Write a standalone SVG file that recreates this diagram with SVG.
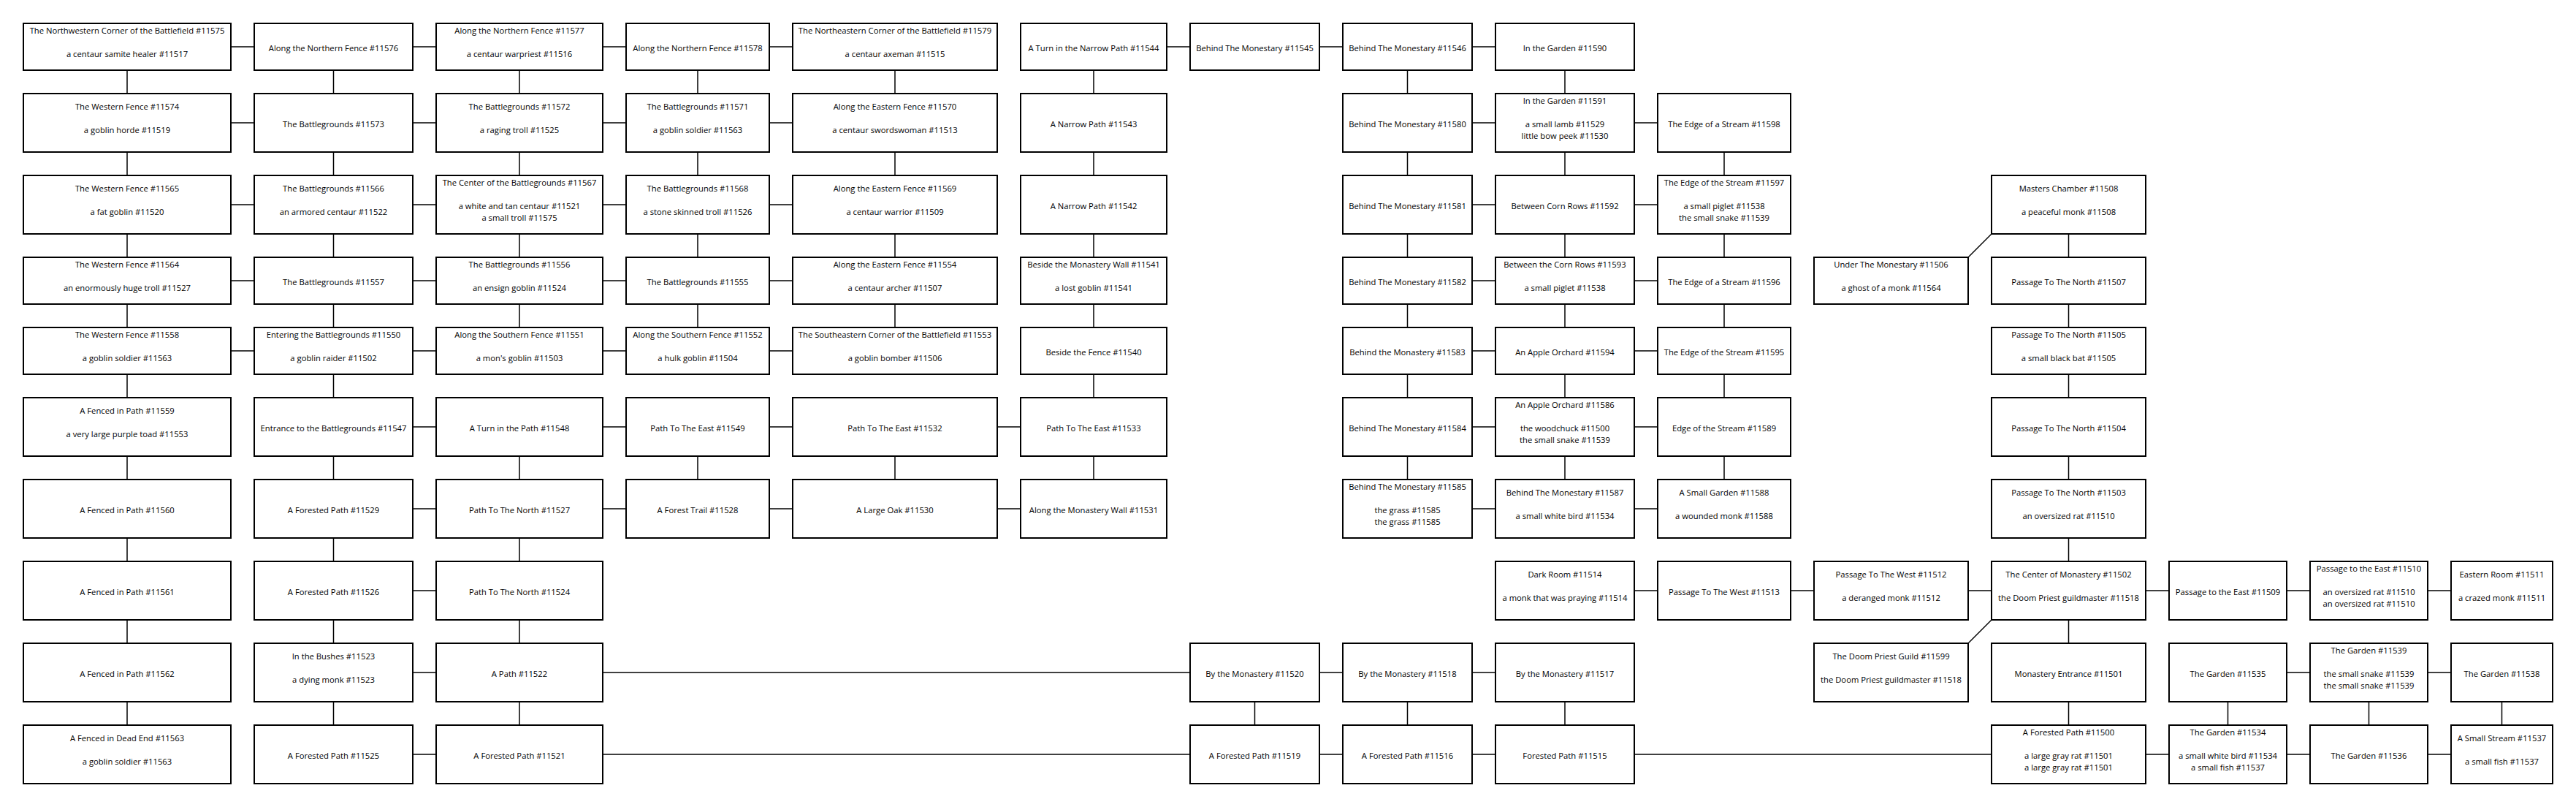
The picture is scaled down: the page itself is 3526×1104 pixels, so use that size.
<svg xmlns="http://www.w3.org/2000/svg" width="3526" height="1104" viewBox="0 0 3526 1104">
<style>
.n rect{fill:#fff;stroke:#000;stroke-width:2}
.n text{font-family:"Open Sans","Noto Sans","DejaVu Sans",sans-serif;font-size:11.25px;fill:#000;text-anchor:middle}
.c line{stroke:#000;stroke-width:1.5;fill:none}
</style>
<rect x="0" y="0" width="3526" height="1104" fill="#fff"/>
<g id="connectors" class="c">
<!-- row 1 -->
<line x1="316" y1="64" x2="348" y2="64"/><line x1="565" y1="64" x2="597" y2="64"/><line x1="825" y1="64" x2="857" y2="64"/><line x1="1053" y1="64" x2="1085" y2="64"/>
<line x1="1597" y1="64" x2="1629" y2="64"/><line x1="1806" y1="64" x2="1838" y2="64"/><line x1="2015" y1="64" x2="2047" y2="64"/>
<!-- row 2 -->
<line x1="316" y1="168" x2="348" y2="168"/><line x1="565" y1="168" x2="597" y2="168"/><line x1="825" y1="168" x2="857" y2="168"/><line x1="1053" y1="168" x2="1085" y2="168"/>
<line x1="2015" y1="168" x2="2047" y2="168"/><line x1="2237" y1="168" x2="2269" y2="168"/>
<!-- row 3 -->
<line x1="316" y1="280" x2="348" y2="280"/><line x1="565" y1="280" x2="597" y2="280"/><line x1="825" y1="280" x2="857" y2="280"/><line x1="1053" y1="280" x2="1085" y2="280"/>
<line x1="2015" y1="280" x2="2047" y2="280"/><line x1="2237" y1="280" x2="2269" y2="280"/>
<!-- row 4 -->
<line x1="316" y1="384" x2="348" y2="384"/><line x1="565" y1="384" x2="597" y2="384"/><line x1="825" y1="384" x2="857" y2="384"/><line x1="1053" y1="384" x2="1085" y2="384"/>
<line x1="2015" y1="384" x2="2047" y2="384"/><line x1="2237" y1="384" x2="2269" y2="384"/>
<!-- row 5 -->
<line x1="316" y1="480" x2="348" y2="480"/><line x1="565" y1="480" x2="597" y2="480"/><line x1="825" y1="480" x2="857" y2="480"/><line x1="1053" y1="480" x2="1085" y2="480"/>
<line x1="2015" y1="480" x2="2047" y2="480"/><line x1="2237" y1="480" x2="2269" y2="480"/>
<!-- row 6 -->
<line x1="565" y1="584" x2="597" y2="584"/><line x1="825" y1="584" x2="857" y2="584"/><line x1="1053" y1="584" x2="1085" y2="584"/><line x1="1365" y1="584" x2="1397" y2="584"/>
<line x1="2015" y1="584" x2="2047" y2="584"/><line x1="2237" y1="584" x2="2269" y2="584"/>
<!-- row 7 -->
<line x1="565" y1="696" x2="597" y2="696"/><line x1="825" y1="696" x2="857" y2="696"/><line x1="1053" y1="696" x2="1085" y2="696"/><line x1="1365" y1="696" x2="1397" y2="696"/>
<line x1="2015" y1="696" x2="2047" y2="696"/><line x1="2237" y1="696" x2="2269" y2="696"/>
<!-- row 8 -->
<line x1="565" y1="808" x2="597" y2="808"/>
<line x1="2237" y1="808" x2="2269" y2="808"/><line x1="2451" y1="808" x2="2483" y2="808"/><line x1="2694" y1="808" x2="2726" y2="808"/><line x1="2937" y1="808" x2="2969" y2="808"/><line x1="3130" y1="808" x2="3162" y2="808"/><line x1="3323" y1="808" x2="3355" y2="808"/>
<!-- row 9 -->
<line x1="565" y1="920" x2="597" y2="920"/><line x1="825" y1="920" x2="1629" y2="920"/><line x1="1806" y1="920" x2="1838" y2="920"/><line x1="2015" y1="920" x2="2047" y2="920"/>
<line x1="3130" y1="920" x2="3162" y2="920"/><line x1="3323" y1="920" x2="3355" y2="920"/>
<!-- row 10 -->
<line x1="565" y1="1032" x2="597" y2="1032"/><line x1="825" y1="1032" x2="1629" y2="1032"/><line x1="1806" y1="1032" x2="1838" y2="1032"/><line x1="2015" y1="1032" x2="2047" y2="1032"/>
<line x1="2237" y1="1032" x2="2726" y2="1032"/><line x1="2937" y1="1032" x2="2969" y2="1032"/><line x1="3130" y1="1032" x2="3162" y2="1032"/><line x1="3323" y1="1032" x2="3355" y2="1032"/>
<!-- column A -->
<line x1="174" y1="96" x2="174" y2="128"/><line x1="174" y1="208" x2="174" y2="240"/><line x1="174" y1="320" x2="174" y2="352"/><line x1="174" y1="416" x2="174" y2="448"/><line x1="174" y1="512" x2="174" y2="544"/><line x1="174" y1="624" x2="174" y2="656"/><line x1="174" y1="736" x2="174" y2="768"/><line x1="174" y1="848" x2="174" y2="880"/><line x1="174" y1="960" x2="174" y2="992"/>
<!-- column B -->
<line x1="456.5" y1="96" x2="456.5" y2="128"/><line x1="456.5" y1="208" x2="456.5" y2="240"/><line x1="456.5" y1="320" x2="456.5" y2="352"/><line x1="456.5" y1="416" x2="456.5" y2="448"/><line x1="456.5" y1="512" x2="456.5" y2="544"/><line x1="456.5" y1="624" x2="456.5" y2="656"/><line x1="456.5" y1="736" x2="456.5" y2="768"/><line x1="456.5" y1="848" x2="456.5" y2="880"/><line x1="456.5" y1="960" x2="456.5" y2="992"/>
<!-- column C -->
<line x1="711" y1="96" x2="711" y2="128"/><line x1="711" y1="208" x2="711" y2="240"/><line x1="711" y1="320" x2="711" y2="352"/><line x1="711" y1="416" x2="711" y2="448"/><line x1="711" y1="624" x2="711" y2="656"/><line x1="711" y1="736" x2="711" y2="768"/><line x1="711" y1="848" x2="711" y2="880"/><line x1="711" y1="960" x2="711" y2="992"/>
<!-- column D -->
<line x1="955" y1="96" x2="955" y2="128"/><line x1="955" y1="208" x2="955" y2="240"/><line x1="955" y1="320" x2="955" y2="352"/><line x1="955" y1="416" x2="955" y2="448"/><line x1="955" y1="624" x2="955" y2="656"/>
<!-- column E -->
<line x1="1225" y1="96" x2="1225" y2="128"/><line x1="1225" y1="208" x2="1225" y2="240"/><line x1="1225" y1="320" x2="1225" y2="352"/><line x1="1225" y1="416" x2="1225" y2="448"/><line x1="1225" y1="624" x2="1225" y2="656"/>
<!-- column F -->
<line x1="1497" y1="96" x2="1497" y2="128"/><line x1="1497" y1="208" x2="1497" y2="240"/><line x1="1497" y1="320" x2="1497" y2="352"/><line x1="1497" y1="416" x2="1497" y2="448"/><line x1="1497" y1="512" x2="1497" y2="544"/><line x1="1497" y1="624" x2="1497" y2="656"/>
<!-- column G -->
<line x1="1717.5" y1="960" x2="1717.5" y2="992"/>
<!-- column H -->
<line x1="1926.5" y1="96" x2="1926.5" y2="128"/><line x1="1926.5" y1="208" x2="1926.5" y2="240"/><line x1="1926.5" y1="320" x2="1926.5" y2="352"/><line x1="1926.5" y1="416" x2="1926.5" y2="448"/><line x1="1926.5" y1="512" x2="1926.5" y2="544"/><line x1="1926.5" y1="624" x2="1926.5" y2="656"/><line x1="1926.5" y1="960" x2="1926.5" y2="992"/>
<!-- column I -->
<line x1="2142" y1="96" x2="2142" y2="128"/><line x1="2142" y1="208" x2="2142" y2="240"/><line x1="2142" y1="320" x2="2142" y2="352"/><line x1="2142" y1="416" x2="2142" y2="448"/><line x1="2142" y1="512" x2="2142" y2="544"/><line x1="2142" y1="624" x2="2142" y2="656"/><line x1="2142" y1="960" x2="2142" y2="992"/>
<!-- column J -->
<line x1="2360" y1="208" x2="2360" y2="240"/><line x1="2360" y1="320" x2="2360" y2="352"/><line x1="2360" y1="416" x2="2360" y2="448"/><line x1="2360" y1="512" x2="2360" y2="544"/><line x1="2360" y1="624" x2="2360" y2="656"/>
<!-- column L -->
<line x1="2831.5" y1="320" x2="2831.5" y2="352"/><line x1="2831.5" y1="416" x2="2831.5" y2="448"/><line x1="2831.5" y1="512" x2="2831.5" y2="544"/><line x1="2831.5" y1="624" x2="2831.5" y2="656"/><line x1="2831.5" y1="736" x2="2831.5" y2="768"/><line x1="2831.5" y1="848" x2="2831.5" y2="880"/><line x1="2831.5" y1="960" x2="2831.5" y2="992"/>
<!-- columns M N O -->
<line x1="3049.5" y1="960" x2="3049.5" y2="992"/><line x1="3242.5" y1="960" x2="3242.5" y2="992"/><line x1="3424.5" y1="960" x2="3424.5" y2="992"/>
<!-- diagonals -->
<line x1="2694" y1="352" x2="2726" y2="320"/><line x1="2694" y1="880" x2="2726" y2="848"/>
</g>

<!-- Row 1 -->
<g id="r11575" class="n"><rect x="32" y="32" width="284" height="64"/><text x="174" y="46">The Northwestern Corner of the Battlefield #11575</text><text x="174" y="78">a centaur samite healer #11517</text></g>
<g id="r11576" class="n"><rect x="348" y="32" width="217" height="64"/><text x="456.5" y="70">Along the Northern Fence #11576</text></g>
<g id="r11577" class="n"><rect x="597" y="32" width="228" height="64"/><text x="711" y="46">Along the Northern Fence #11577</text><text x="711" y="78">a centaur warpriest #11516</text></g>
<g id="r11578" class="n"><rect x="857" y="32" width="196" height="64"/><text x="955" y="70">Along the Northern Fence #11578</text></g>
<g id="r11579" class="n"><rect x="1085" y="32" width="280" height="64"/><text x="1225" y="46">The Northeastern Corner of the Battlefield #11579</text><text x="1225" y="78">a centaur axeman #11515</text></g>
<g id="r11544" class="n"><rect x="1397" y="32" width="200" height="64"/><text x="1497" y="70">A Turn in the Narrow Path #11544</text></g>
<g id="r11545" class="n"><rect x="1629" y="32" width="177" height="64"/><text x="1717.5" y="70">Behind The Monestary #11545</text></g>
<g id="r11546" class="n"><rect x="1838" y="32" width="177" height="64"/><text x="1926.5" y="70">Behind The Monestary #11546</text></g>
<g id="r11590" class="n"><rect x="2047" y="32" width="190" height="64"/><text x="2142" y="70">In the Garden #11590</text></g>

<!-- Row 2 -->
<g id="r11574" class="n"><rect x="32" y="128" width="284" height="80"/><text x="174" y="150">The Western Fence #11574</text><text x="174" y="182">a goblin horde #11519</text></g>
<g id="r11573" class="n"><rect x="348" y="128" width="217" height="80"/><text x="456.5" y="174">The Battlegrounds #11573</text></g>
<g id="r11572" class="n"><rect x="597" y="128" width="228" height="80"/><text x="711" y="150">The Battlegrounds #11572</text><text x="711" y="182">a raging troll #11525</text></g>
<g id="r11571" class="n"><rect x="857" y="128" width="196" height="80"/><text x="955" y="150">The Battlegrounds #11571</text><text x="955" y="182">a goblin soldier #11563</text></g>
<g id="r11570" class="n"><rect x="1085" y="128" width="280" height="80"/><text x="1225" y="150">Along the Eastern Fence #11570</text><text x="1225" y="182">a centaur swordswoman #11513</text></g>
<g id="r11543" class="n"><rect x="1397" y="128" width="200" height="80"/><text x="1497" y="174">A Narrow Path #11543</text></g>
<g id="r11580" class="n"><rect x="1838" y="128" width="177" height="80"/><text x="1926.5" y="174">Behind The Monestary #11580</text></g>
<g id="r11591" class="n"><rect x="2047" y="128" width="190" height="80"/><text x="2142" y="142">In the Garden #11591</text><text x="2142" y="174">a small lamb #11529</text><text x="2142" y="190">little bow peek #11530</text></g>
<g id="r11598" class="n"><rect x="2269" y="128" width="182" height="80"/><text x="2360" y="174">The Edge of a Stream #11598</text></g>

<!-- Row 3 -->
<g id="r11565" class="n"><rect x="32" y="240" width="284" height="80"/><text x="174" y="262">The Western Fence #11565</text><text x="174" y="294">a fat goblin #11520</text></g>
<g id="r11566" class="n"><rect x="348" y="240" width="217" height="80"/><text x="456.5" y="262">The Battlegrounds #11566</text><text x="456.5" y="294">an armored centaur #11522</text></g>
<g id="r11567" class="n"><rect x="597" y="240" width="228" height="80"/><text x="711" y="254">The Center of the Battlegrounds #11567</text><text x="711" y="286">a white and tan centaur #11521</text><text x="711" y="302">a small troll #11575</text></g>
<g id="r11568" class="n"><rect x="857" y="240" width="196" height="80"/><text x="955" y="262">The Battlegrounds #11568</text><text x="955" y="294">a stone skinned troll #11526</text></g>
<g id="r11569" class="n"><rect x="1085" y="240" width="280" height="80"/><text x="1225" y="262">Along the Eastern Fence #11569</text><text x="1225" y="294">a centaur warrior #11509</text></g>
<g id="r11542" class="n"><rect x="1397" y="240" width="200" height="80"/><text x="1497" y="286">A Narrow Path #11542</text></g>
<g id="r11581" class="n"><rect x="1838" y="240" width="177" height="80"/><text x="1926.5" y="286">Behind The Monestary #11581</text></g>
<g id="r11592" class="n"><rect x="2047" y="240" width="190" height="80"/><text x="2142" y="286">Between Corn Rows #11592</text></g>
<g id="r11597" class="n"><rect x="2269" y="240" width="182" height="80"/><text x="2360" y="254">The Edge of the Stream #11597</text><text x="2360" y="286">a small piglet #11538</text><text x="2360" y="302">the small snake #11539</text></g>
<g id="r11508" class="n"><rect x="2726" y="240" width="211" height="80"/><text x="2831.5" y="262">Masters Chamber #11508</text><text x="2831.5" y="294">a peaceful monk #11508</text></g>

<!-- Row 4 -->
<g id="r11564" class="n"><rect x="32" y="352" width="284" height="64"/><text x="174" y="366">The Western Fence #11564</text><text x="174" y="398">an enormously huge troll #11527</text></g>
<g id="r11557" class="n"><rect x="348" y="352" width="217" height="64"/><text x="456.5" y="390">The Battlegrounds #11557</text></g>
<g id="r11556" class="n"><rect x="597" y="352" width="228" height="64"/><text x="711" y="366">The Battlegrounds #11556</text><text x="711" y="398">an ensign goblin #11524</text></g>
<g id="r11555" class="n"><rect x="857" y="352" width="196" height="64"/><text x="955" y="390">The Battlegrounds #11555</text></g>
<g id="r11554" class="n"><rect x="1085" y="352" width="280" height="64"/><text x="1225" y="366">Along the Eastern Fence #11554</text><text x="1225" y="398">a centaur archer #11507</text></g>
<g id="r11541" class="n"><rect x="1397" y="352" width="200" height="64"/><text x="1497" y="366">Beside the Monastery Wall #11541</text><text x="1497" y="398">a lost goblin #11541</text></g>
<g id="r11582" class="n"><rect x="1838" y="352" width="177" height="64"/><text x="1926.5" y="390">Behind The Monestary #11582</text></g>
<g id="r11593" class="n"><rect x="2047" y="352" width="190" height="64"/><text x="2142" y="366">Between the Corn Rows #11593</text><text x="2142" y="398">a small piglet #11538</text></g>
<g id="r11596" class="n"><rect x="2269" y="352" width="182" height="64"/><text x="2360" y="390">The Edge of a Stream #11596</text></g>
<g id="r11506" class="n"><rect x="2483" y="352" width="211" height="64"/><text x="2588.5" y="366">Under The Monestary #11506</text><text x="2588.5" y="398">a ghost of a monk #11564</text></g>
<g id="r11507" class="n"><rect x="2726" y="352" width="211" height="64"/><text x="2831.5" y="390">Passage To The North #11507</text></g>

<!-- Row 5 -->
<g id="r11558" class="n"><rect x="32" y="448" width="284" height="64"/><text x="174" y="462">The Western Fence #11558</text><text x="174" y="494">a goblin soldier #11563</text></g>
<g id="r11550" class="n"><rect x="348" y="448" width="217" height="64"/><text x="456.5" y="462">Entering the Battlegrounds #11550</text><text x="456.5" y="494">a goblin raider #11502</text></g>
<g id="r11551" class="n"><rect x="597" y="448" width="228" height="64"/><text x="711" y="462">Along the Southern Fence #11551</text><text x="711" y="494">a mon's goblin #11503</text></g>
<g id="r11552" class="n"><rect x="857" y="448" width="196" height="64"/><text x="955" y="462">Along the Southern Fence #11552</text><text x="955" y="494">a hulk goblin #11504</text></g>
<g id="r11553" class="n"><rect x="1085" y="448" width="280" height="64"/><text x="1225" y="462">The Southeastern Corner of the Battlefield #11553</text><text x="1225" y="494">a goblin bomber #11506</text></g>
<g id="r11540" class="n"><rect x="1397" y="448" width="200" height="64"/><text x="1497" y="486">Beside the Fence #11540</text></g>
<g id="r11583" class="n"><rect x="1838" y="448" width="177" height="64"/><text x="1926.5" y="486">Behind the Monastery #11583</text></g>
<g id="r11594" class="n"><rect x="2047" y="448" width="190" height="64"/><text x="2142" y="486">An Apple Orchard #11594</text></g>
<g id="r11595" class="n"><rect x="2269" y="448" width="182" height="64"/><text x="2360" y="486">The Edge of the Stream #11595</text></g>
<g id="r11505" class="n"><rect x="2726" y="448" width="211" height="64"/><text x="2831.5" y="462">Passage To The North #11505</text><text x="2831.5" y="494">a small black bat #11505</text></g>

<!-- Row 6 -->
<g id="r11559" class="n"><rect x="32" y="544" width="284" height="80"/><text x="174" y="566">A Fenced in Path #11559</text><text x="174" y="598">a very large purple toad #11553</text></g>
<g id="r11547" class="n"><rect x="348" y="544" width="217" height="80"/><text x="456.5" y="590">Entrance to the Battlegrounds #11547</text></g>
<g id="r11548" class="n"><rect x="597" y="544" width="228" height="80"/><text x="711" y="590">A Turn in the Path #11548</text></g>
<g id="r11549" class="n"><rect x="857" y="544" width="196" height="80"/><text x="955" y="590">Path To The East #11549</text></g>
<g id="r11532" class="n"><rect x="1085" y="544" width="280" height="80"/><text x="1225" y="590">Path To The East #11532</text></g>
<g id="r11533" class="n"><rect x="1397" y="544" width="200" height="80"/><text x="1497" y="590">Path To The East #11533</text></g>
<g id="r11584" class="n"><rect x="1838" y="544" width="177" height="80"/><text x="1926.5" y="590">Behind The Monestary #11584</text></g>
<g id="r11586" class="n"><rect x="2047" y="544" width="190" height="80"/><text x="2142" y="558">An Apple Orchard #11586</text><text x="2142" y="590">the woodchuck #11500</text><text x="2142" y="606">the small snake #11539</text></g>
<g id="r11589" class="n"><rect x="2269" y="544" width="182" height="80"/><text x="2360" y="590">Edge of the Stream #11589</text></g>
<g id="r11504" class="n"><rect x="2726" y="544" width="211" height="80"/><text x="2831.5" y="590">Passage To The North #11504</text></g>

<!-- Row 7 -->
<g id="r11560" class="n"><rect x="32" y="656" width="284" height="80"/><text x="174" y="702">A Fenced in Path #11560</text></g>
<g id="r11529" class="n"><rect x="348" y="656" width="217" height="80"/><text x="456.5" y="702">A Forested Path #11529</text></g>
<g id="r11527" class="n"><rect x="597" y="656" width="228" height="80"/><text x="711" y="702">Path To The North #11527</text></g>
<g id="r11528" class="n"><rect x="857" y="656" width="196" height="80"/><text x="955" y="702">A Forest Trail #11528</text></g>
<g id="r11530" class="n"><rect x="1085" y="656" width="280" height="80"/><text x="1225" y="702">A Large Oak #11530</text></g>
<g id="r11531" class="n"><rect x="1397" y="656" width="200" height="80"/><text x="1497" y="702">Along the Monastery Wall #11531</text></g>
<g id="r11585" class="n"><rect x="1838" y="656" width="177" height="80"/><text x="1926.5" y="670">Behind The Monestary #11585</text><text x="1926.5" y="702">the grass #11585</text><text x="1926.5" y="718">the grass #11585</text></g>
<g id="r11587" class="n"><rect x="2047" y="656" width="190" height="80"/><text x="2142" y="678">Behind The Monestary #11587</text><text x="2142" y="710">a small white bird #11534</text></g>
<g id="r11588" class="n"><rect x="2269" y="656" width="182" height="80"/><text x="2360" y="678">A Small Garden #11588</text><text x="2360" y="710">a wounded monk #11588</text></g>
<g id="r11503" class="n"><rect x="2726" y="656" width="211" height="80"/><text x="2831.5" y="678">Passage To The North #11503</text><text x="2831.5" y="710">an oversized rat #11510</text></g>

<!-- Row 8 -->
<g id="r11561" class="n"><rect x="32" y="768" width="284" height="80"/><text x="174" y="814">A Fenced in Path #11561</text></g>
<g id="r11526" class="n"><rect x="348" y="768" width="217" height="80"/><text x="456.5" y="814">A Forested Path #11526</text></g>
<g id="r11524" class="n"><rect x="597" y="768" width="228" height="80"/><text x="711" y="814">Path To The North #11524</text></g>
<g id="r11514" class="n"><rect x="2047" y="768" width="190" height="80"/><text x="2142" y="790">Dark Room #11514</text><text x="2142" y="822">a monk that was praying #11514</text></g>
<g id="r11513" class="n"><rect x="2269" y="768" width="182" height="80"/><text x="2360" y="814">Passage To The West #11513</text></g>
<g id="r11512" class="n"><rect x="2483" y="768" width="211" height="80"/><text x="2588.5" y="790">Passage To The West #11512</text><text x="2588.5" y="822">a deranged monk #11512</text></g>
<g id="r11502" class="n"><rect x="2726" y="768" width="211" height="80"/><text x="2831.5" y="790">The Center of Monastery #11502</text><text x="2831.5" y="822">the Doom Priest guildmaster #11518</text></g>
<g id="r11509" class="n"><rect x="2969" y="768" width="161" height="80"/><text x="3049.5" y="814">Passage to the East #11509</text></g>
<g id="r11510" class="n"><rect x="3162" y="768" width="161" height="80"/><text x="3242.5" y="782">Passage to the East #11510</text><text x="3242.5" y="814">an oversized rat #11510</text><text x="3242.5" y="830">an oversized rat #11510</text></g>
<g id="r11511" class="n"><rect x="3355" y="768" width="139" height="80"/><text x="3424.5" y="790">Eastern Room #11511</text><text x="3424.5" y="822">a crazed monk #11511</text></g>

<!-- Row 9 -->
<g id="r11562" class="n"><rect x="32" y="880" width="284" height="80"/><text x="174" y="926">A Fenced in Path #11562</text></g>
<g id="r11523" class="n"><rect x="348" y="880" width="217" height="80"/><text x="456.5" y="902">In the Bushes #11523</text><text x="456.5" y="934">a dying monk #11523</text></g>
<g id="r11522" class="n"><rect x="597" y="880" width="228" height="80"/><text x="711" y="926">A Path #11522</text></g>
<g id="r11520" class="n"><rect x="1629" y="880" width="177" height="80"/><text x="1717.5" y="926">By the Monastery #11520</text></g>
<g id="r11518" class="n"><rect x="1838" y="880" width="177" height="80"/><text x="1926.5" y="926">By the Monastery #11518</text></g>
<g id="r11517" class="n"><rect x="2047" y="880" width="190" height="80"/><text x="2142" y="926">By the Monastery #11517</text></g>
<g id="r11599" class="n"><rect x="2483" y="880" width="211" height="80"/><text x="2588.5" y="902">The Doom Priest Guild #11599</text><text x="2588.5" y="934">the Doom Priest guildmaster #11518</text></g>
<g id="r11501" class="n"><rect x="2726" y="880" width="211" height="80"/><text x="2831.5" y="926">Monastery Entrance #11501</text></g>
<g id="r11535" class="n"><rect x="2969" y="880" width="161" height="80"/><text x="3049.5" y="926">The Garden #11535</text></g>
<g id="r11539" class="n"><rect x="3162" y="880" width="161" height="80"/><text x="3242.5" y="894">The Garden #11539</text><text x="3242.5" y="926">the small snake #11539</text><text x="3242.5" y="942">the small snake #11539</text></g>
<g id="r11538" class="n"><rect x="3355" y="880" width="139" height="80"/><text x="3424.5" y="926">The Garden #11538</text></g>

<!-- Row 10 -->
<g id="r11563" class="n"><rect x="32" y="992" width="284" height="80"/><text x="174" y="1014">A Fenced in Dead End #11563</text><text x="174" y="1046">a goblin soldier #11563</text></g>
<g id="r11525" class="n"><rect x="348" y="992" width="217" height="80"/><text x="456.5" y="1038">A Forested Path #11525</text></g>
<g id="r11521" class="n"><rect x="597" y="992" width="228" height="80"/><text x="711" y="1038">A Forested Path #11521</text></g>
<g id="r11519" class="n"><rect x="1629" y="992" width="177" height="80"/><text x="1717.5" y="1038">A Forested Path #11519</text></g>
<g id="r11516" class="n"><rect x="1838" y="992" width="177" height="80"/><text x="1926.5" y="1038">A Forested Path #11516</text></g>
<g id="r11515" class="n"><rect x="2047" y="992" width="190" height="80"/><text x="2142" y="1038">Forested Path #11515</text></g>
<g id="r11500" class="n"><rect x="2726" y="992" width="211" height="80"/><text x="2831.5" y="1006">A Forested Path #11500</text><text x="2831.5" y="1038">a large gray rat #11501</text><text x="2831.5" y="1054">a large gray rat #11501</text></g>
<g id="r11534" class="n"><rect x="2969" y="992" width="161" height="80"/><text x="3049.5" y="1006">The Garden #11534</text><text x="3049.5" y="1038">a small white bird #11534</text><text x="3049.5" y="1054">a small fish #11537</text></g>
<g id="r11536" class="n"><rect x="3162" y="992" width="161" height="80"/><text x="3242.5" y="1038">The Garden #11536</text></g>
<g id="r11537" class="n"><rect x="3355" y="992" width="139" height="80"/><text x="3424.5" y="1014">A Small Stream #11537</text><text x="3424.5" y="1046">a small fish #11537</text></g>
</svg>
